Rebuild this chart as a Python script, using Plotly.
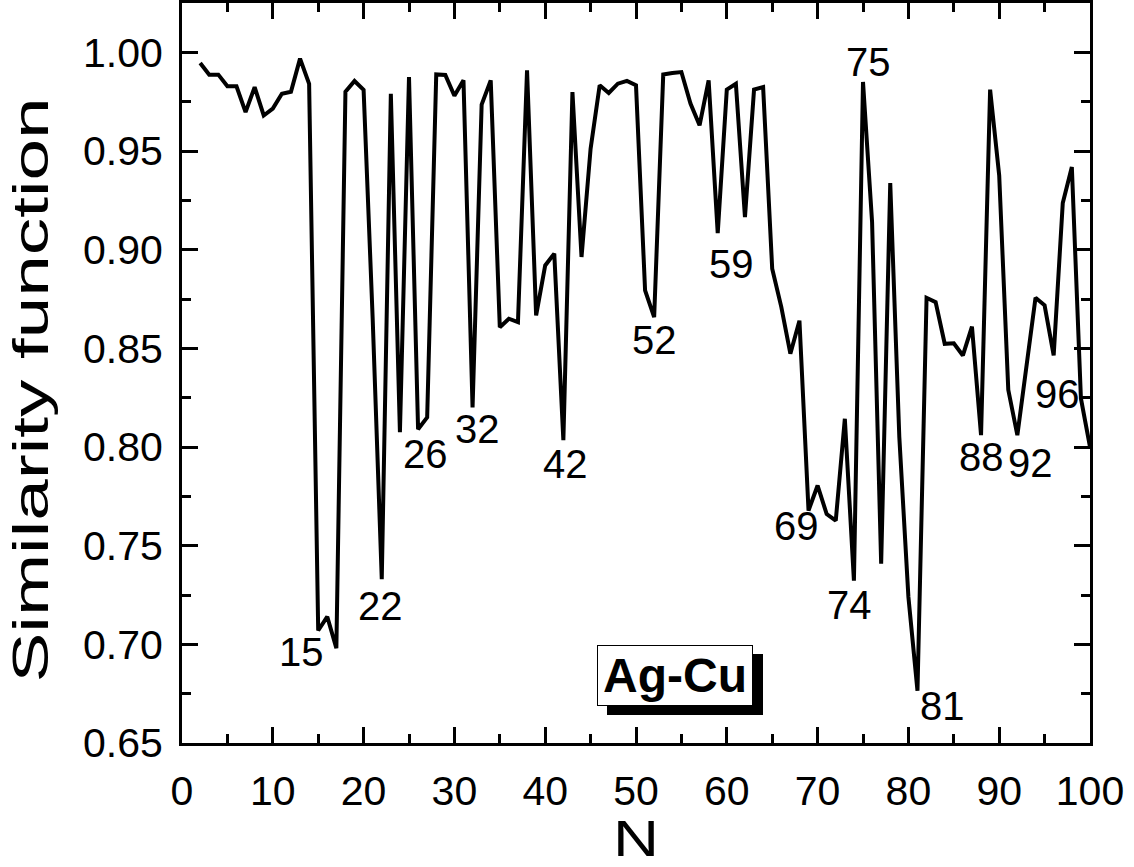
import plotly.graph_objects as go

# Cluster size N and similarity function values for Ag-Cu
n_atoms = list(range(2, 101))
similarity = [
    0.9946, 0.9887, 0.9887, 0.9828, 0.9828, 0.9697, 0.9824, 0.9680, 0.9715,  # 2-10
    0.9790, 0.9800, 0.9968, 0.9840, 0.7070, 0.7140, 0.6980, 0.9800, 0.9855, 0.9810,  # 11-20
    0.8650, 0.7330, 0.9790, 0.8075, 0.9875, 0.8090, 0.8150, 0.9888, 0.9885, 0.9780,  # 21-30
    0.9858, 0.8200, 0.9735, 0.9858, 0.8607, 0.8650, 0.8633, 0.9909, 0.8667, 0.8920,  # 31-40
    0.8980, 0.8035, 0.9799, 0.8963, 0.9512, 0.9833, 0.9794, 0.9841, 0.9855, 0.9833,  # 41-50
    0.8794, 0.8658, 0.9888, 0.9895, 0.9900, 0.9740, 0.9630, 0.9858, 0.9084, 0.9811,  # 51-60
    0.9841, 0.9165, 0.9811, 0.9824, 0.8903, 0.8710, 0.8473, 0.8640, 0.7678, 0.7805,  # 61-70
    0.7660, 0.7627, 0.8143, 0.7323, 0.9850, 0.9140, 0.7408, 0.9337, 0.8050, 0.7240,  # 71-80
    0.6765, 0.8756, 0.8734, 0.8523, 0.8526, 0.8464, 0.8610, 0.8060, 0.9811, 0.9376,  # 81-90
    0.8290, 0.8060, 0.8400, 0.8756, 0.8718, 0.8464, 0.9236, 0.9419, 0.8246, 0.8000,  # 91-100
]

# Labelled magic sizes and where their labels sit
label_text = ["15", "22", "26", "32", "42", "52", "59", "69", "74", "75", "81", "88", "92", "96"]
label_x = [13.2, 21.9, 26.8, 32.5, 42.2, 52.0, 60.5, 67.7, 73.5, 75.6, 83.8, 88.0, 93.4, 96.4]
label_y = [0.696, 0.7196, 0.7967, 0.809, 0.7916, 0.854, 0.8925, 0.760, 0.720, 0.995, 0.669, 0.7947, 0.792, 0.827]

FONT = "Liberation Sans, Arial, sans-serif"

fig = go.Figure()
fig.add_trace(go.Scatter(
    x=n_atoms, y=similarity, mode="lines",
    line=dict(color="black", width=4),
    showlegend=False, hoverinfo="skip",
))

for t, lx, ly in zip(label_text, label_x, label_y):
    fig.add_annotation(x=lx, y=ly, text=t, showarrow=False,
                       xanchor="center", yanchor="middle",
                       font=dict(family=FONT, size=40, color="black"))

# System name in a box with a drop shadow
fig.add_annotation(x=54.3, y=0.684, text=" ", showarrow=False,
                   xanchor="center", yanchor="middle", xshift=10, yshift=-9,
                   width=152, height=57, bgcolor="black", bordercolor="black",
                   borderwidth=1, borderpad=1,
                   font=dict(family=FONT, size=20, color="black"))
fig.add_annotation(x=54.3, y=0.684, text="<b>Ag-Cu</b>", showarrow=False,
                   xanchor="center", yanchor="middle",
                   width=152, height=57, bgcolor="white", bordercolor="black",
                   borderwidth=1, borderpad=1,
                   font=dict(family=FONT, size=48, color="black"))

axis_common = dict(
    showline=True, linecolor="black", linewidth=3, mirror="ticks",
    ticks="inside", ticklen=16, tickwidth=3, tickcolor="black",
    showgrid=False, zeroline=False, automargin=False,
    tickfont=dict(family=FONT, size=41, color="black"),
)

fig.update_xaxes(
    range=[0, 100], tickmode="array", tickvals=list(range(0, 101, 10)),
    minor=dict(ticks="inside", ticklen=9, tickwidth=3, tickcolor="black", dtick=5, tick0=0),
    title=dict(text="N", font=dict(family=FONT, size=50, color="black"), standoff=18),
    ticklabelstandoff=10,
    **axis_common,
)
fig.update_yaxes(
    range=[0.65, 1.025], tickmode="array",
    tickvals=[0.65, 0.70, 0.75, 0.80, 0.85, 0.90, 0.95, 1.00],
    ticktext=["0.65", "0.70", "0.75", "0.80", "0.85", "0.90", "0.95", "1.00"],
    minor=dict(ticks="inside", ticklen=9, tickwidth=3, tickcolor="black", dtick=0.025, tick0=0.65),
    title=dict(text="Similarity function", font=dict(family=FONT, size=50, color="black"), standoff=10),
    ticklabelstandoff=8,
    **axis_common,
)

fig.update_layout(
    width=1134, height=867,
    margin=dict(l=182, r=44, t=3, b=124),
    paper_bgcolor="white", plot_bgcolor="white",
)

# Axis titles are set in a horizontally stretched face: widen them along the text direction
stretch_js = """
var gd = document.getElementById('{plot_id}');
function stretchTitles() {
  var yt = gd.querySelector('.ytitle');
  if (yt) {
    yt.setAttribute('textLength', '585');
    yt.setAttribute('lengthAdjust', 'spacingAndGlyphs');
    var tr = yt.getAttribute('transform') || '';
    if (tr.indexOf('translate(-9,17)') !== 0) { yt.setAttribute('transform', 'translate(-9,17) ' + tr); }
  }
  var xt = gd.querySelector('.xtitle');
  if (xt) { xt.setAttribute('textLength', '46'); xt.setAttribute('lengthAdjust', 'spacingAndGlyphs'); }
}
stretchTitles();
gd.on('plotly_afterplot', stretchTitles);
"""

fig.write_html("out.html", post_script=stretch_js)
